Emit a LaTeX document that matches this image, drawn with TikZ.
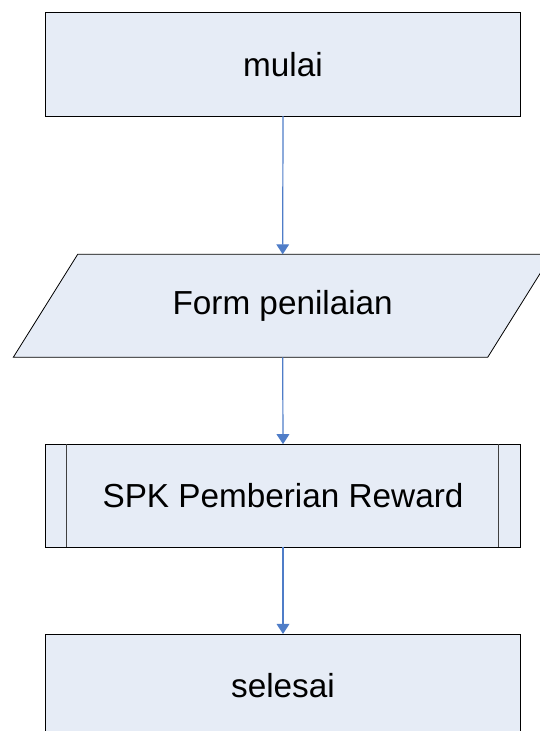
\documentclass[tikz,border=0pt]{standalone}
\usepackage{fontspec}
\setmainfont{Liberation Sans}
\usetikzlibrary{arrows.meta}
\definecolor{boxfill}{RGB}{230,236,246}
\definecolor{arrowblue}{RGB}{79,125,200}
\begin{document}
\begin{tikzpicture}[x=1pt,y=-1pt,
  box/.style={draw=black, line width=0.8pt, fill=boxfill, minimum width=475pt, minimum height=103.3pt, inner sep=0pt, outer sep=0pt, font=\fontsize{33.3}{40}\selectfont},
  plain/.style={inner sep=0pt, outer sep=0pt, minimum height=103pt, font=\fontsize{33.3}{40}\selectfont},
  flow/.style={draw=arrowblue, line width=1.2pt, -{Triangle[width=12.7pt,length=10pt]}},
  sideline/.style={draw=black!75, line width=1pt}]
\useasboundingbox (0,0) rectangle (540,731);
\node[box] (mulai) at (283,64.4) {mulai};
\draw[line width=0.8pt, fill=boxfill] (77.7,254.3) -- (552.1,254.3) -- (487.7,357.3) -- (13.3,357.3) -- cycle;
\node[plain] (form) at (282.7,305.8) {Form penilaian};
\node[box] (spk) at (283,495.8) {SPK Pemberian Reward};
\draw[sideline] ([xshift=21.4pt]spk.north west) -- ([xshift=21.4pt]spk.south west);
\draw[sideline] ([xshift=-21.6pt]spk.north east) -- ([xshift=-21.6pt]spk.south east);
\node[box] (selesai) at (283,685.6) {selesai};
\draw[flow] (mulai.south) -- (form.north);
\draw[flow] (form.south) -- (spk.north);
\draw[flow] (spk.south) -- (selesai.north);
\end{tikzpicture}
\end{document}
